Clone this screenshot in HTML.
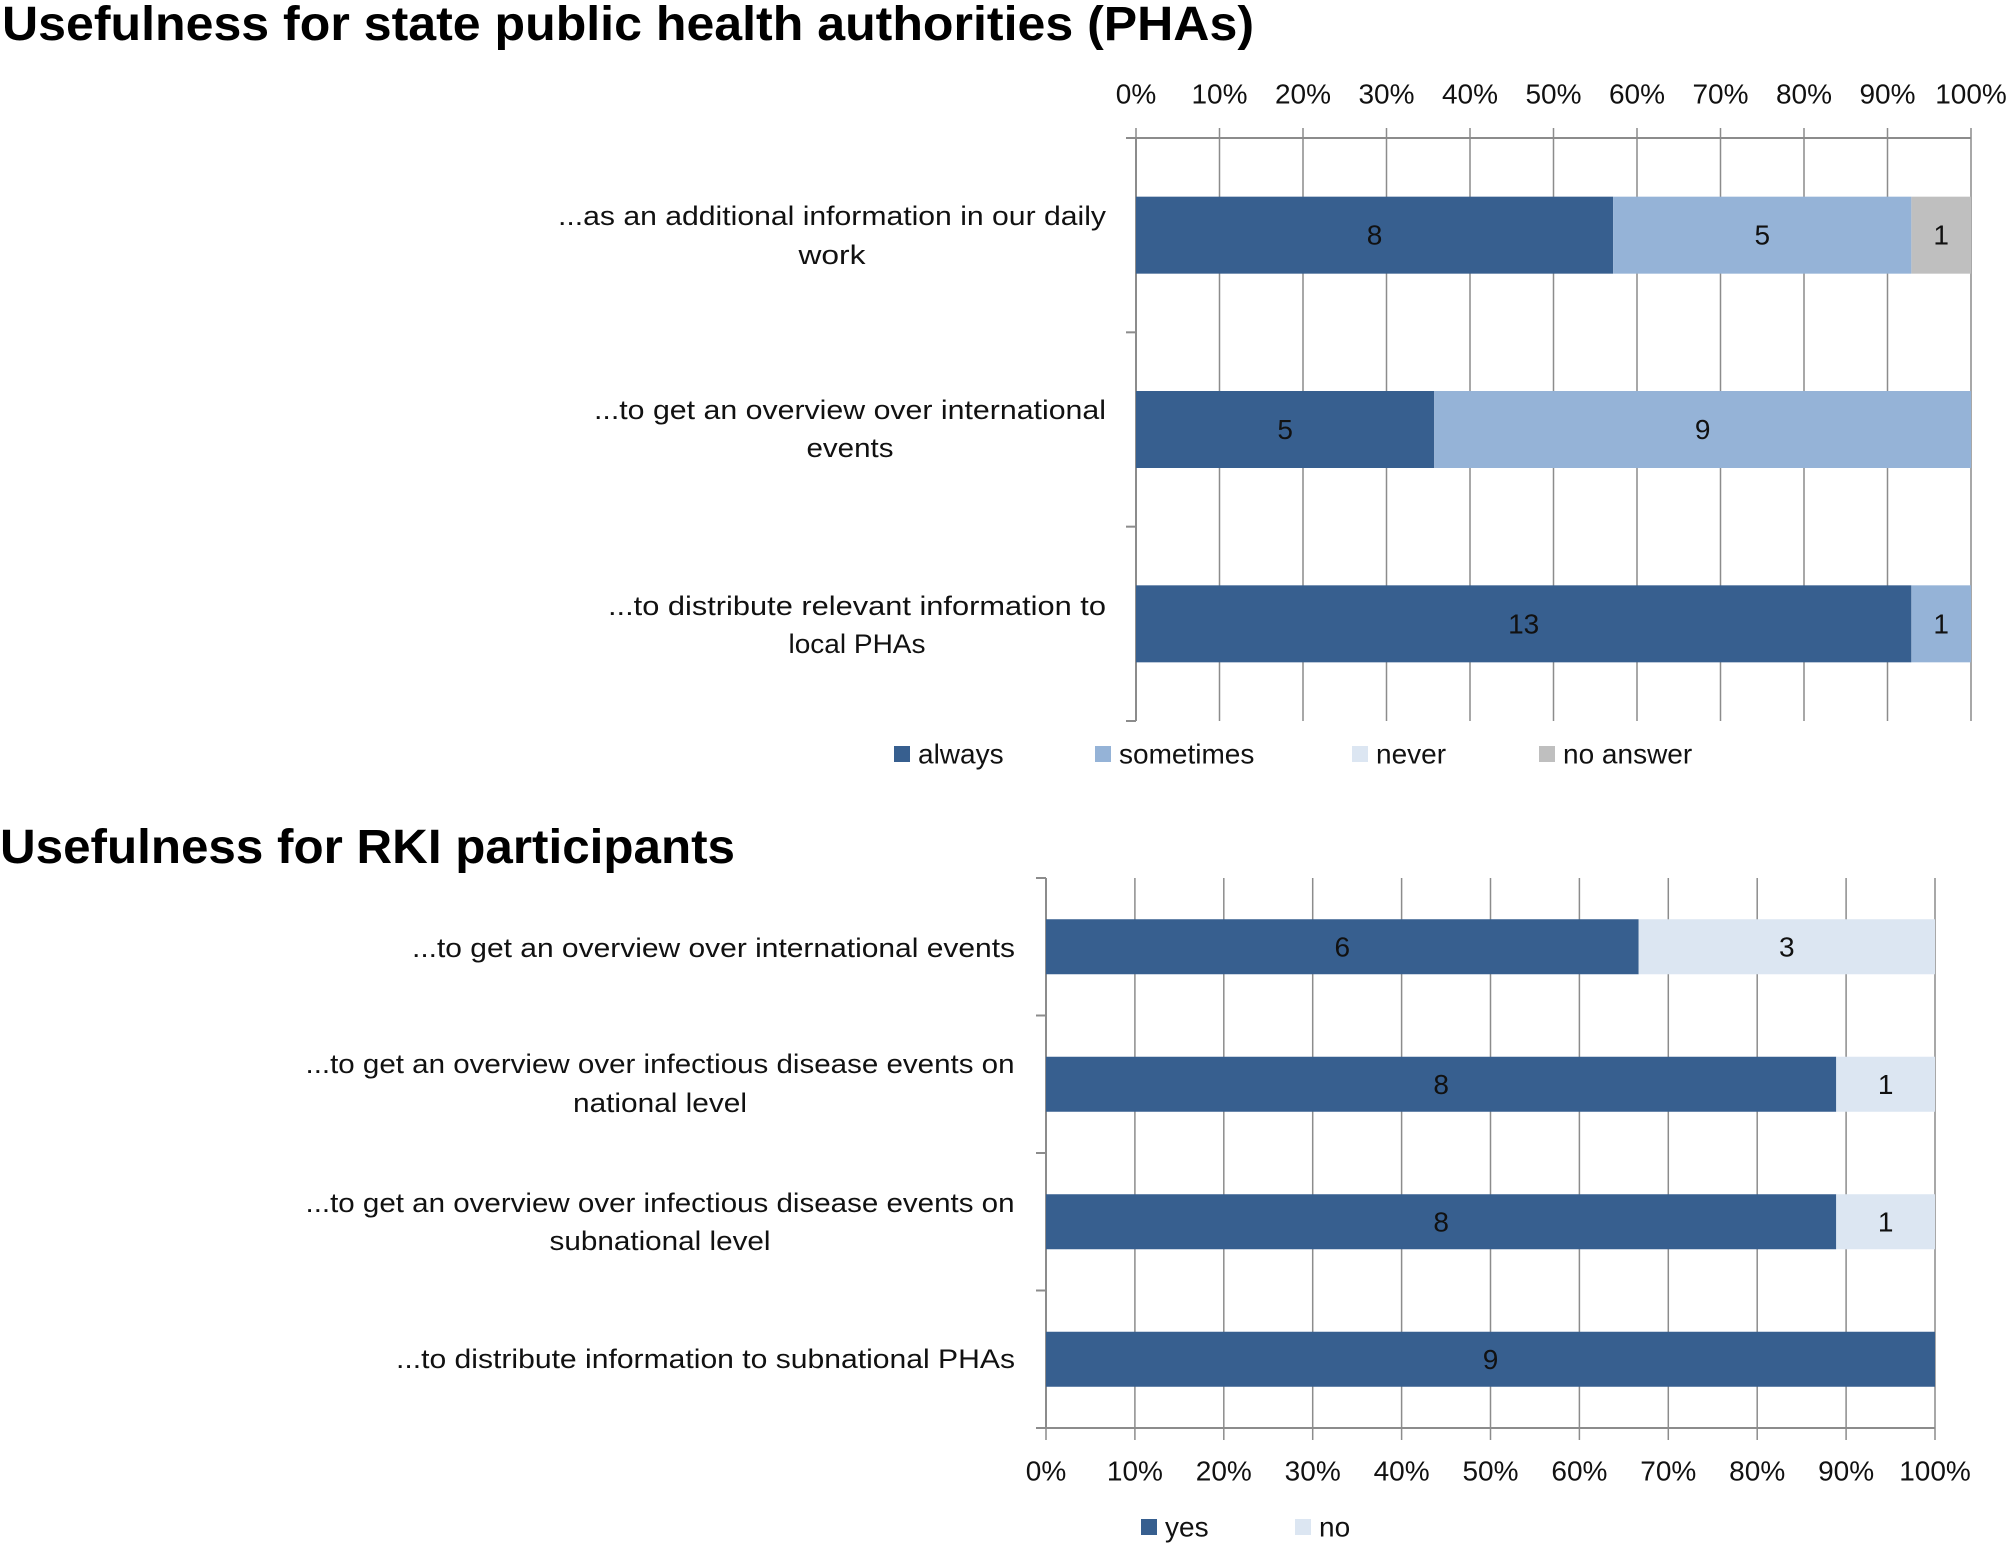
<!DOCTYPE html>
<html><head><meta charset="utf-8"><style>
body{margin:0;background:#fff;}
svg{display:block;font-family:"Liberation Sans",sans-serif;}
</style></head><body>
<svg id="c" width="2008" height="1544" xmlns="http://www.w3.org/2000/svg">
<text x="2" y="40" font-size="48" font-weight="bold" textLength="1252" lengthAdjust="spacingAndGlyphs">Usefulness for state public health authorities (PHAs)</text>
<text x="0" y="863" font-size="48" font-weight="bold" textLength="735" lengthAdjust="spacingAndGlyphs">Usefulness for RKI participants</text>
</svg>
<script>
const topCategories=["additional-info","international-overview","distribute-local"];
const topAlways=[8,5,13];
const topSometimes=[5,9,1];
const topNever=[0,0,0];
const topNoAnswer=[1,0,0];
const botCategories=["international","national","subnational","distribute-subnational"];
const botYes=[6,8,8,9];
const botNo=[3,1,1,0];
const tickLabels=["0%","10%","20%","30%","40%","50%","60%","70%","80%","90%","100%"];

const NS="http://www.w3.org/2000/svg";
const svg=document.getElementById('c');
function el(tag,attrs,text){const e=document.createElementNS(NS,tag);for(const k in attrs)e.setAttribute(k,attrs[k]);if(text!==undefined)e.textContent=text;svg.appendChild(e);return e;}
const GRID="#8c8c8c";

function chart(cfg){
  const x=p=>cfg.x0+(cfg.x1-cfg.x0)*p;
  // gridlines
  tickLabels.forEach((t,i)=>{
    const xx=x(i/10);
    const g=el('line',{x1:xx,x2:xx,y1:cfg.gridTop,y2:cfg.gridBot,stroke:GRID,'stroke-width':1.5});
    
    
    const tl=el('text',{x:xx,y:cfg.tickY,'font-size':28,'text-anchor':'middle','dominant-baseline':'central',fill:'#111'},t);
    
    
  });
  // axes
  const ax=el('line',{x1:cfg.x0-10,x2:cfg.x1,y1:cfg.axisY,y2:cfg.axisY,stroke:GRID,'stroke-width':2});
  
  
  const ay=el('line',{x1:cfg.x0,x2:cfg.x0,y1:cfg.yTop,y2:cfg.yBot,stroke:GRID,'stroke-width':2});
  
  
  const n=cfg.cats.length, band=(cfg.yBot-cfg.yTop)/n;
  for(let i=0;i<=n;i++){
    const yy=cfg.yTop+band*i;
    const t=el('line',{x1:cfg.x0-10,x2:cfg.x0,y1:yy,y2:yy,stroke:GRID,'stroke-width':2});
    
    
  }
  cfg.cats.forEach((c,i)=>{
    const total=cfg.series.reduce((s,sr)=>s+sr.vals[i],0);
    const cy=cfg.yTop+band*(i+0.5);
    const h=cfg.barH;
    let acc=0;
    cfg.series.forEach(sr=>{
      const v=sr.vals[i];
      if(v>0){
        const xa=x(acc/total), xb=x((acc+v)/total);
        const r=el('rect',{x:xa,y:cy-h/2,width:xb-xa,height:h,fill:sr.color});
        
        
        const tv=el('text',{x:(xa+xb)/2,y:cy,'font-size':28,'text-anchor':'middle','dominant-baseline':'central',fill:'#111'},String(v));
        
        
      }
      acc+=v;
    });
    const lab=cfg.labels[i];
    lab.forEach(l=>{
      const a={x:l[1],y:l[2],'font-size':27,'text-anchor':l[4],'dominant-baseline':'central',fill:'#111',textLength:l[3],lengthAdjust:'spacingAndGlyphs'};
      const tt=el('text',a,l[0]);
      
      
    });
  });
  cfg.legend.forEach(L=>{
    const s=el('rect',{x:L[1],y:cfg.legY-8,width:16,height:16,fill:L[2]});
    
    
    const t=el('text',{x:L[1]+24,y:cfg.legY,'font-size':28,'dominant-baseline':'central',fill:'#111'},L[0]);
    
    
  });
}
const DARK="#375f8f",MID="#95b3d7",LIGHT="#dce6f2",GRAY="#bfbfbf";
chart({x0:1136,x1:1971,gridTop:128,gridBot:721,axisY:138,tickY:94,yTop:138,yBot:721,barH:77,
  cats:topCategories,
  series:[{name:'always',vals:topAlways,color:DARK},{name:'sometimes',vals:topSometimes,color:MID},{name:'never',vals:topNever,color:LIGHT},{name:'no-answer',vals:topNoAnswer,color:GRAY}],
  labels:[
   [["...as an additional information in our daily",832,216,548,'middle'],["work",832,255,67,'middle']],
   [["...to get an overview over international",850,410,512,'middle'],["events",850,448,87,'middle']],
   [["...to distribute relevant information to",857,606,498,'middle'],["local PHAs",857,644,137,'middle']]
  ],
  legY:754,legend:[["always",894,DARK],["sometimes",1095,MID],["never",1352,LIGHT],["no answer",1539,GRAY]]
});
chart({x0:1046,x1:1935,gridTop:878,gridBot:1440,axisY:1428,tickY:1471,yTop:878,yBot:1428,barH:55,
  cats:botCategories,
  series:[{name:'yes',vals:botYes,color:DARK},{name:'no',vals:botNo,color:LIGHT}],
  labels:[
   [["...to get an overview over international events",1015,948,603,'end']],
   [["...to get an overview over infectious disease events on",660,1064,709,'middle'],["national level",660,1103,174,'middle']],
   [["...to get an overview over infectious disease events on",660,1203,709,'middle'],["subnational level",660,1241,221,'middle']],
   [["...to distribute information to subnational PHAs",1015,1359,619,'end']]
  ],
  legY:1527,legend:[["yes",1141,DARK],["no",1295,LIGHT]]
});
</script>
</body></html>
